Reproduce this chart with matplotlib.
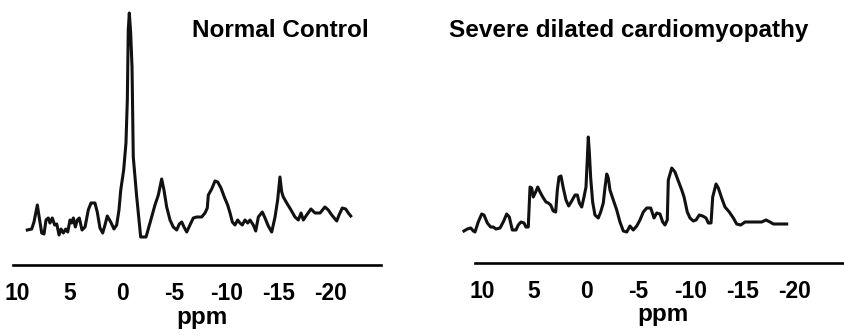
import matplotlib
matplotlib.use('Agg')
import matplotlib.pyplot as plt

plt.rcParams['font.family'] = ['Liberation Sans', 'DejaVu Sans']
plt.rcParams['font.weight'] = 'bold'
plt.rcParams['axes.unicode_minus'] = False

W, H = 844, 335  # output size in px (dpi 100)

TICKS = [10, 5, 0, -5, -10, -15, -20]
TICK_LABELS = ['10', '5', '0', '-5', '-10', '-15', '-20']

# Normal control spectrum (ppm, arbitrary amplitude)
normal_ppm = [9.08, 8.66, 8.44, 8.12, 7.93, 7.70, 7.48, 7.29, 7.07, 6.91,
              6.69, 6.46, 6.26, 6.04, 5.85, 5.63, 5.40, 5.21, 4.99, 4.83,
              4.67, 4.48, 4.29, 4.10, 3.84, 3.55, 3.24, 2.98, 2.60, 2.38,
              2.12, 1.86, 1.64, 1.42, 1.09, 0.78, 0.52, 0.30, 0.13, -0.15,
              -0.37, -0.50, -0.59, -0.69, -0.82, -0.95, -1.07, -1.40, -1.78, -2.29,
              -2.67, -3.15, -3.47, -3.79, -4.01, -4.27, -4.59, -4.90, -5.23, -5.48,
              -5.71, -5.93, -6.19, -6.50, -6.82, -7.15, -7.62, -7.94, -8.16, -8.26,
              -8.58, -8.90, -9.16, -9.47, -9.79, -10.11, -10.34, -10.56, -10.81, -11.07,
              -11.29, -11.51, -11.77, -12.03, -12.25, -12.57, -12.80, -13.05, -13.43, -13.69,
              -14.00, -14.33, -14.65, -14.90, -15.12, -15.29, -15.44, -15.77, -16.18, -16.56,
              -16.88, -17.14, -17.36, -17.68, -18.09, -18.48, -18.96, -19.43, -19.75, -20.08,
              -20.56, -20.78, -21.09, -21.42, -21.67, -21.90]
normal_amp = [10, 11, 18, 35, 22, 7, 6, 20, 22, 17,
              22, 15, 16, 5, 11, 7, 11, 8, 20, 17,
              22, 13, 20, 22, 10, 13, 30, 37, 37, 28,
              12, 7, 15, 24, 18, 11, 15, 30, 50, 70,
              97, 140, 210, 227, 207, 173, 83, 43, 3, 3,
              17, 35, 45, 61, 50, 33, 20, 13, 10, 16,
              18, 13, 8, 15, 22, 23, 23, 27, 32, 45,
              51, 59, 58, 52, 43, 35, 27, 18, 15, 20,
              17, 15, 20, 17, 20, 15, 9, 23, 28, 22,
              14, 8, 23, 40, 63, 48, 43, 37, 30, 23,
              20, 27, 20, 25, 31, 27, 27, 33, 30, 25,
              19, 25, 32, 31, 27, 24]

# Severe dilated cardiomyopathy spectrum
dcm_ppm = [11.73, 11.41, 11.08, 10.83, 10.67, 10.36, 10.03, 9.81, 9.49, 9.17,
           8.92, 8.66, 8.27, 7.96, 7.63, 7.38, 7.09, 6.74, 6.52, 6.26,
           5.97, 5.78, 5.56, 5.39, 5.23, 5.08, 4.85, 4.65, 4.43, 4.17,
           3.86, 3.64, 3.41, 3.16, 2.93, 2.77, 2.61, 2.42, 2.20, 1.94,
           1.68, 1.39, 1.07, 0.85, 0.66, 0.43, 0.21, 0.02, -0.11, -0.20,
           -0.30, -0.43, -0.62, -0.84, -1.16, -1.39, -1.64, -1.80, -1.97, -2.12,
           -2.28, -2.60, -2.93, -3.24, -3.56, -3.89, -4.20, -4.52, -4.85, -5.16,
           -5.48, -5.81, -6.19, -6.51, -6.77, -7.08, -7.34, -7.56, -7.78, -7.88,
           -8.21, -8.52, -8.84, -9.17, -9.39, -9.70, -9.96, -10.28, -10.54, -10.85,
           -11.18, -11.50, -11.72, -11.98, -12.14, -12.46, -12.68, -13.00, -13.32, -13.73,
           -14.12, -14.44, -14.83, -15.24, -15.72, -16.36, -16.84, -17.26, -17.64, -17.96,
           -18.60, -19.24]
dcm_amp = [9, 11, 12, 9, 8, 18, 26, 25, 17, 13,
           13, 11, 12, 18, 26, 23, 10, 10, 15, 18,
           17, 13, 13, 53, 52, 43, 48, 53, 48, 43,
           38, 37, 35, 29, 28, 50, 63, 64, 52, 40,
           34, 39, 45, 45, 37, 33, 43, 53, 82, 103,
           88, 62, 38, 25, 22, 28, 37, 52, 66, 62,
           50, 40, 30, 18, 9, 8, 14, 10, 14, 20,
           28, 32, 32, 22, 27, 26, 18, 15, 20, 60,
           72, 68, 59, 50, 43, 28, 22, 19, 20, 25,
           24, 22, 17, 17, 43, 56, 52, 42, 33, 28,
           22, 16, 15, 18, 18, 18, 18, 20, 18, 16,
           16, 16]


def px_rect(left, top, right, bottom):
    # pixel box (from top-left) -> figure fraction rect
    return [left / W, 1 - bottom / H, (right - left) / W, (bottom - top) / H]


def draw_panel(fig, rect, ppm, amp, xlim, ylim):
    ax = fig.add_axes(rect)
    ax.patch.set_visible(False)
    ax.plot(ppm, amp, color='#111111', lw=2.2, clip_on=False,
            solid_joinstyle='round')
    ax.set_xlim(*xlim)
    ax.set_ylim(*ylim)
    for side in ('top', 'left', 'right'):
        ax.spines[side].set_visible(False)
    ax.spines['bottom'].set_linewidth(1.9)
    ax.set_yticks([])
    ax.set_xticks(TICKS)
    ax.set_xticklabels(TICK_LABELS)
    ax.tick_params(axis='x', length=0, pad=12.5, labelsize=16.5)
    return ax


fig = plt.figure(figsize=(W / 100, H / 100), dpi=100)

draw_panel(fig, px_rect(12.7, 5, 381, 265), normal_ppm, normal_amp,
           (10.48, -24.8), (-25, 235))
draw_panel(fig, px_rect(474.7, 5, 844, 262.5), dcm_ppm, dcm_amp,
           (10.70, -24.74), (-22.5, 235))

fig.text(280 / W, 1 - 36.7 / H, 'Normal Control', ha='center',
         va='baseline', fontsize=17.5)
fig.text(628.5 / W, 1 - 36.7 / H, 'Severe dilated cardiomyopathy',
         ha='center', va='baseline', fontsize=17.5)
fig.text(202 / W, 1 - 324 / H, 'ppm', ha='center', va='baseline', fontsize=17.5)
fig.text(663 / W, 1 - 321 / H, 'ppm', ha='center', va='baseline', fontsize=17.5)

fig.savefig('out.png', dpi=100)
plt.close(fig)
